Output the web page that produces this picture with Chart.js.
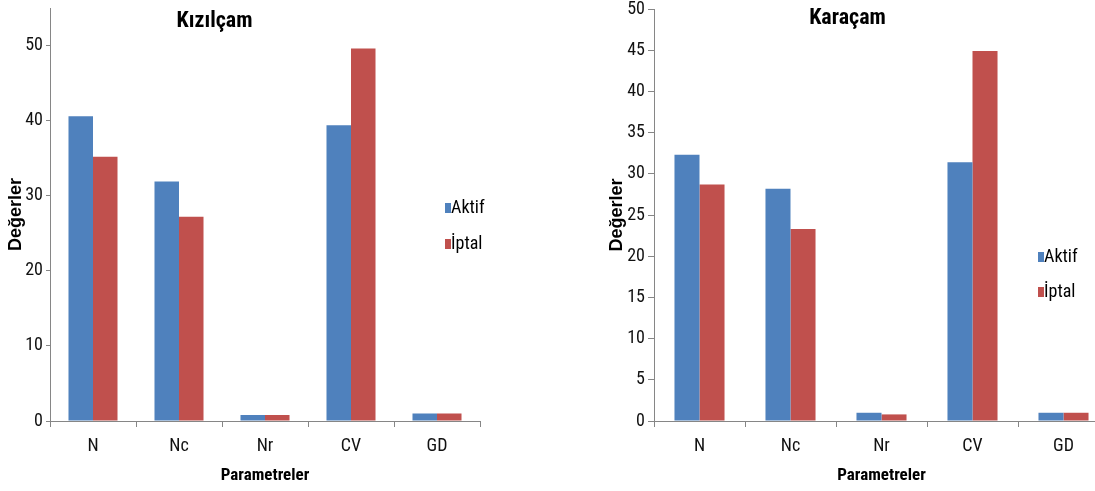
<!DOCTYPE html>
<html><head><meta charset="utf-8">
<script src="https://cdn.jsdelivr.net/npm/chart.js@4"></script>
<style>
html,body{margin:0;padding:0;background:#fff;overflow:hidden;width:1095px;height:491px;}
#c1wrap{position:absolute;left:0;top:0;width:560px;height:491px;}
#c2wrap{position:absolute;left:560px;top:0;width:600px;height:491px;}
</style></head><body>
<div id="c1wrap"><canvas id="c1"></canvas></div>
<div id="c2wrap"><canvas id="c2"></canvas></div>
<script>
const categories = ['N', 'Nc', 'Nr', 'CV', 'GD'];
const seriesNames = ['Aktif', 'İptal'];
const kizilcamAktif = [40.6, 31.9, 0.8, 39.4, 1.0];
const kizilcamIptal = [35.2, 27.2, 0.8, 49.6, 1.0];
const karacamAktif = [32.3, 28.2, 1.0, 31.4, 1.0];
const karacamIptal = [28.7, 23.3, 0.8, 44.9, 1.0];
const kizilcamTicks = [0, 10, 20, 30, 40, 50];
const karacamTicks = [0, 5, 10, 15, 20, 25, 30, 35, 40, 45, 50];

const NARROW = '"Liberation Sans Narrow", "Arial Narrow", "Roboto Condensed", "Liberation Sans", sans-serif';
const REG = '"Liberation Sans", Arial, sans-serif';
const AXIS = '#868686';
const TXT = '#111111';

const overlay = {
  id: 'overlay',
  afterDraw(chart, args, o) {
    const ctx = chart.ctx;
    ctx.save();
    ctx.fillStyle = '#000';
    ctx.font = 'bold 22px ' + NARROW;
    ctx.textAlign = 'center';
    ctx.textBaseline = 'alphabetic';
    ctx.fillText(o.title, o.titleX, o.titleY);
    chart.data.datasets.forEach((ds, i) => {
      const y = o.legendY + i * o.legendGap;
      ctx.fillStyle = ds.backgroundColor;
      ctx.fillRect(o.legendX, y - 10, 6, 10);
      ctx.fillStyle = '#000';
      ctx.textAlign = 'left';
      ctx.font = '18px ' + NARROW;
      ctx.fillText(ds.label, o.legendX + 6, y);
    });
    ctx.restore();
  }
};

function makeChart(id, aktif, iptal, tickVals, c) {
  return new Chart(document.getElementById(id), {
    type: 'bar',
    data: {
      labels: categories,
      datasets: [
        { label: seriesNames[0], data: aktif, backgroundColor: '#4F81BD' },
        { label: seriesNames[1], data: iptal, backgroundColor: '#C0504D' }
      ]
    },
    options: {
      responsive: true, maintainAspectRatio: false, animation: false,
      layout: { padding: { left: 0, right: c.padRight, top: c.padTop, bottom: 0 } },
      datasets: { bar: { categoryPercentage: c.catPct, barPercentage: 1 } },
      plugins: {
        legend: { display: false }, tooltip: { enabled: false },
        overlay: c.overlay
      },
      scales: {
        x: {
          grid: { display: true, drawOnChartArea: false, tickLength: 6, color: AXIS, offset: true },
          border: { color: AXIS, width: 1 },
          ticks: { color: TXT, font: { family: NARROW, size: 18 }, padding: 9 },
          title: { display: true, text: 'Parametreler', color: '#000', font: { family: NARROW, size: 17, weight: 'bold' }, padding: { top: 0, bottom: 5 } },
          afterFit(s) { s.height = 70; s.paddingLeft = 0; s.paddingRight = 0; }
        },
        y: {
          min: 0, max: c.max,
          grid: { display: true, drawOnChartArea: false, tickLength: c.tickLen, color: AXIS },
          border: { color: AXIS, width: 1 },
          ticks: { color: TXT, font: { family: NARROW, size: 18 }, padding: 3 },
          title: { display: true, text: 'Değerler', color: '#000', font: { family: REG, size: 18, weight: 'bold' }, padding: { top: c.yTitlePad, bottom: 0 } },
          afterBuildTicks(s) { s.ticks = tickVals.map(v => ({ value: v })); },
          afterFit(s) { s.width = c.yWidth; s.paddingTop = 0; s.paddingBottom = 0; }
        }
      }
    },
    plugins: [overlay]
  });
}

makeChart('c1', kizilcamAktif, kizilcamIptal, kizilcamTicks, {
  padRight: 80, padTop: 8, catPct: 0.57, max: 55, yWidth: 50, tickLen: 4, yTitlePad: 5,
  overlay: { title: 'Kızılçam', titleX: 214.5, titleY: 27, legendX: 445, legendY: 213, legendGap: 36 }
});
makeChart('c2', karacamAktif, karacamIptal, karacamTicks, {
  padRight: 51, padTop: 9, catPct: 0.55, max: 50, yWidth: 94, tickLen: 6, yTitlePad: 46,
  overlay: { title: 'Karaçam', titleX: 287.5, titleY: 24, legendX: 478, legendY: 262, legendGap: 35 }
});
</script>
</body></html>
